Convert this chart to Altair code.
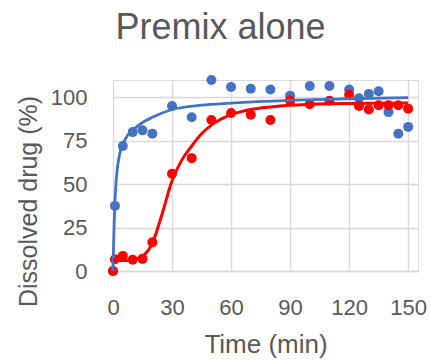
import altair as alt
import pandas as pd

# Measured points
times = [0, 1, 5, 10, 15, 20, 30, 40, 50, 60, 70, 80, 90, 100, 110, 120, 125, 130, 135, 140, 145, 150]
blue_vals = [0, 37.5, 72, 80, 81, 79, 95, 88.5, 110, 106, 105, 104.5, 101, 106.5, 106.5, 104.5, 99.5, 102, 103.5, 91.5, 79, 83]
red_vals = [0, 6.8, 8.7, 6.5, 7, 16.5, 56, 65, 87, 91, 90, 87, 98, 96, 98, 101.5, 95, 93, 95.5, 95.5, 95.5, 93.5]

# Fitted curves
blue_curve_t = [0, 0.3, 0.6, 1, 1.5, 2, 3, 4, 5, 7, 10, 15, 20, 30, 45, 60, 90, 120, 150]
blue_curve_y = [0, 15, 28, 40, 50, 57, 65, 70, 73, 77.5, 81, 85.5, 88.5, 93, 95.5, 96.7, 98.3, 99.2, 99.8]
red_curve_t = [0, 5, 10, 15, 20, 25, 30, 35, 40, 45, 50, 60, 70, 80, 90, 100, 120, 150]
red_curve_y = [6, 6, 6.5, 8.5, 16, 33, 52, 64, 72, 79, 84, 90, 93, 94.5, 95.5, 96, 96.5, 96.8]

BLUE = "#4472C4"
RED = "#FF0000"
TXT = "#595959"
FONT = "Liberation Sans"

pts_blue = pd.DataFrame({"t": times, "y": blue_vals})
pts_red = pd.DataFrame({"t": times, "y": red_vals})
cur_blue = pd.DataFrame({"t": blue_curve_t, "y": blue_curve_y})
cur_red = pd.DataFrame({"t": red_curve_t, "y": red_curve_y})

xscale = alt.Scale(domain=[0, 155], nice=False, zero=False)
yscale = alt.Scale(domain=[0, 110], nice=False)

xaxis = alt.Axis(
    values=[0, 30, 60, 90, 120, 150], title="Time (min)",
    labelFontSize=22, labelColor=TXT, labelFont=FONT, labelPadding=43,
    labelBaseline="alphabetic", labelFlush=False, ticks=False, tickSize=0,
    grid=True, gridColor="#d9d9d9", gridWidth=1.4,
    domainColor="#d9d9d9", domainWidth=1.4,
    titleFontSize=26, titleFont=FONT, titleColor=TXT, titleFontWeight="normal",
    titleBaseline="alphabetic", titleY=81,
)
yaxis = alt.Axis(
    values=[0, 25, 50, 75, 100], title="Dissolved drug (%)",
    labelFontSize=22, labelColor=TXT, labelFont=FONT, labelPadding=26,
    labelFlush=False, ticks=False, tickSize=0,
    grid=True, gridColor="#d9d9d9", gridWidth=1.4,
    domain=False,
    titleFontSize=25, titleFont=FONT, titleColor=TXT, titleFontWeight="normal",
    titleAngle=270, titleBaseline="middle", titleAlign="center",
    titleX=-85, titleY=121,
)

X = alt.X("t:Q", scale=xscale, axis=xaxis)
Y = alt.Y("y:Q", scale=yscale, axis=yaxis)

blue_dots = alt.Chart(pts_blue).mark_circle(size=100, opacity=1, color=BLUE).encode(x=X, y=Y)
blue_line = alt.Chart(cur_blue).mark_line(color=BLUE, strokeWidth=2.8, interpolate="monotone").encode(x=X, y=Y)
red_dots = alt.Chart(pts_red).mark_circle(size=100, opacity=1, color=RED).encode(x=X, y=Y)
red_line = alt.Chart(cur_red).mark_line(color=RED, strokeWidth=3, interpolate="monotone").encode(x=X, y=Y)

chart = alt.layer(blue_dots, red_dots, blue_line, red_line).properties(
    width=305, height=191,
    title=alt.Title("Premix alone", fontSize=36, font=FONT, color=TXT, fontWeight="normal",
                    anchor="middle", frame="group", offset=28, dx=-45),
    padding={"left": 113, "top": 80, "right": 13, "bottom": 89},
    autosize=alt.AutoSizeParams(type="none"),
).configure_view(stroke=None, fill="white").configure(background="white")

chart.save("out.html", embed_options={"renderer": "svg", "actions": False})
